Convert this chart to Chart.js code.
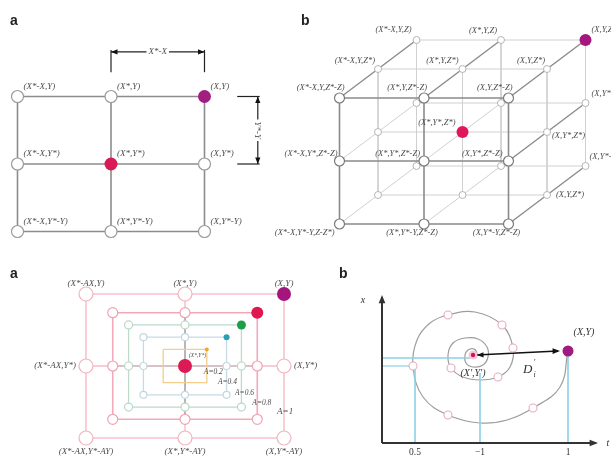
<!DOCTYPE html>
<html>
<head>
<meta charset="utf-8">
<script src="https://cdn.jsdelivr.net/npm/chart.js@4.4.1/dist/chart.umd.min.js"></script>
<style>
  html, body { margin: 0; padding: 0; background: #fff; }
  #wrap { position: relative; width: 611px; height: 457px; overflow: hidden; }
  #wrap canvas { position: absolute; }
  .tag { position: absolute; font: bold 14px "Liberation Sans", Arial, sans-serif; color: #222; line-height: 14px; }
</style>
</head>
<body>
<div id="wrap">
  <canvas id="gridA" width="300" height="245" style="left:0;top:0"></canvas>
  <canvas id="cubeB" width="341" height="250" style="left:270px;top:0"></canvas>
  <canvas id="boxA" width="320" height="212" style="left:0;top:245px"></canvas>
  <canvas id="spiralB" width="311" height="227" style="left:300px;top:230px"></canvas>
  <div class="tag" style="left:10px;top:13px">a</div>
  <div class="tag" style="left:301px;top:13px">b</div>
  <div class="tag" style="left:10px;top:266px">a</div>
  <div class="tag" style="left:339px;top:266px">b</div>
</div>
<script>
// ---------- data ----------
// top a : 3x3 neighbourhood
const gridCols = [-1, 0, 1];
const gridRows = [1, 0, -1];
const gridColNames = ['X*-X', 'X*', 'X'];
const gridRowNames = ['Y', 'Y*', 'Y*-Y'];
const gridTarget = [1, 1];
const gridCentre = [0, 0];
const dimTopX = [0, 1];
const dimTopY = [1.36, 1.69];
const dimTopArrowY = 1.66;
const dimSideY = [1, 0];
const dimSideX = [1.35, 1.59];
const dimSideArrowX = 1.57;

// top b : 3x3x3 lattice
const cubeCols = [-1, 0, 1];
const cubeRows = [1, 0, -1];
const cubeDepths = [-1, 0, 1];
const cubeTarget = [1, 1, 1];
const cubeCentre = [0, 0, 0];
const cubeLabelNodes = [
  [-1, 1, 1], [0, 1, 1], [1, 1, 1],
  [-1, 1, 0], [0, 1, 0], [1, 1, 0],
  [-1, 1, -1], [0, 1, -1], [1, 1, -1],
  [0, 0, 0], [1, 0, 0], [1, 0, 1],
  [-1, 0, -1], [0, 0, -1], [1, 0, -1],
  [1, -1, 1], [1, -1, 0],
  [-1, -1, -1], [0, -1, -1], [1, -1, -1]
];
const cubeLabelTexts = [
  '(X*-X,Y,Z)', '(X*,Y,Z)', '(X,Y,Z)',
  '(X*-X,Y,Z*)', '(X*,Y,Z*)', '(X,Y,Z*)',
  '(X*-X,Y,Z*-Z)', '(X*,Y,Z*-Z)', '(X,Y,Z*-Z)',
  '(X*,Y*,Z*)', '(X,Y*,Z*)', '(X,Y*,Z)',
  '(X*-X,Y*,Z*-Z)', '(X*,Y*,Z*-Z)', '(X,Y*,Z*-Z)',
  '(X,Y*-Y,Z)', '(X,Y,Z*)',
  '(X*-X,Y*-Y,Z-Z*)', '(X*,Y*-Y,Z*-Z)', '(X,Y*-Y,Z*-Z)'
];

// bottom a : shrinking boxes
const boxNames = ['A=1', 'A=0.8', 'A=0.6', 'A=0.4', 'A=0.2'];
const boxHalfW = [1, 0.73, 0.57, 0.42, 0.22];
const boxHalfH = [1, 0.74, 0.57, 0.40, 0.23];
const boxNameX = [0.93, 0.68, 0.505, 0.333, 0.19];
const boxNameY = [-0.64, -0.51, -0.37, -0.22, -0.08];

// bottom b : spiral towards (X',Y')
const spiralX = [18.6, 17.8, 15.1, 12.5, 9.8, 6.6, 4.1, 3.1, 3.5, 4.8, 6.6, 9.3, 12.0, 13.1, 12.8, 11.6, 9.8, 8.1, 6.9, 6.6, 7.1, 8.3, 9.6, 10.5, 10.6, 10.1, 9.1, 8.4, 8.3, 8.6, 9.2, 9.5, 9.3, 8.9];
const spiralY = [9.2, 5.6, 3.5, 2.3, 2.0, 2.8, 4.6, 7.7, 10.3, 12.0, 12.8, 13.1, 11.8, 9.5, 7.6, 6.6, 6.3, 6.6, 7.5, 8.8, 10.0, 10.5, 10.4, 9.6, 8.6, 7.8, 7.6, 8.0, 8.8, 9.3, 9.4, 8.9, 8.5, 8.6];
const spiralNodeX = [6.6, 12.0, 13.1, 11.6, 6.9, 3.1, 6.6, 15.1];
const spiralNodeY = [12.8, 11.8, 9.5, 6.6, 7.5, 7.7, 2.8, 3.5];
const spiralTarget = [18.6, 9.2];
const spiralCentre = [9.1, 8.8];
const tTicks = [3.3, 9.8, 18.6];
const tTickLabels = ['0.5', '\u22121', '1'];

// ---------- styles ----------
const TXT = '#4d4d4d';
const SERIF = '"Liberation Serif", "DejaVu Serif", serif';
function italic(size) { return 'italic ' + size + 'px ' + SERIF; }
const boxLine = ['#f6c3ce', '#f2a9b9', '#bcdccb', '#c8dbe4', '#f6cd8a'];
const boxNode = ['#f1b4c3', '#efa3b5', '#b9d8c7', '#c3d8e2', null];
const boxNodeR = [7, 5, 4, 3.5, 0];
const boxDot = ['#a4167e', '#e0164f', '#1c9f48', '#2b9fb5', '#f5a623'];
const boxDotR = [7, 6, 4.5, 3, 2];

// ---------- helpers ----------
function frame(w, h, ox, oy, ux, uy) {
  return {
    x: { type: 'linear', display: false, min: -ox / ux, max: (w - ox) / ux },
    y: { type: 'linear', display: false, min: -(h - oy) / uy, max: oy / uy }
  };
}

function lineSet(pts, color, width, extra) {
  return Object.assign({
    data: pts, showLine: true, borderColor: color, borderWidth: width,
    pointRadius: 0, pointHoverRadius: 0, fill: false, tension: 0, clip: false, order: 3
  }, extra || {});
}

function dotSet(pts, radius, fillColor, edgeColor, edgeWidth, order) {
  return {
    data: pts, showLine: false, pointRadius: radius, pointHoverRadius: radius,
    pointBackgroundColor: fillColor, pointBorderColor: edgeColor, pointBorderWidth: edgeWidth,
    borderColor: edgeColor, backgroundColor: fillColor, clip: false, order: order == null ? 1 : order
  };
}

function notesPlugin(id, notes) {
  return {
    id: id,
    afterDatasetsDraw(chart) {
      const ctx = chart.ctx, sx = chart.scales.x, sy = chart.scales.y;
      (notes.heads || []).forEach(hd => {
        const x1 = sx.getPixelForValue(hd.from[0]), y1 = sy.getPixelForValue(hd.from[1]);
        const x2 = sx.getPixelForValue(hd.to[0]), y2 = sy.getPixelForValue(hd.to[1]);
        const a = Math.atan2(y2 - y1, x2 - x1), len = hd.size || 7, spread = 0.38;
        ctx.save();
        ctx.fillStyle = hd.color || '#111';
        ctx.beginPath();
        ctx.moveTo(x2, y2);
        ctx.lineTo(x2 - len * Math.cos(a - spread), y2 - len * Math.sin(a - spread));
        ctx.lineTo(x2 - len * Math.cos(a + spread), y2 - len * Math.sin(a + spread));
        ctx.closePath();
        ctx.fill();
        ctx.restore();
      });
      (notes.texts || []).forEach(t => {
        ctx.save();
        ctx.font = t.font;
        ctx.textAlign = t.align || 'left';
        ctx.textBaseline = 'middle';
        ctx.translate(sx.getPixelForValue(t.x) + (t.dx || 0), sy.getPixelForValue(t.y) + (t.dy || 0));
        if (t.rot) ctx.rotate(t.rot);
        const w = ctx.measureText(t.text).width;
        if (t.bg) {
          const left = t.align === 'center' ? -w / 2 : (t.align === 'right' ? -w : 0);
          ctx.fillStyle = t.bg;
          ctx.fillRect(left - 2, -5, w + 4, 10);
        }
        ctx.fillStyle = t.color || TXT;
        ctx.fillText(t.text, 0, 0);
        if (t.sup) { ctx.font = t.smallFont; ctx.textAlign = 'left'; ctx.fillText(t.sup, w + 1, -7); }
        if (t.sub) { ctx.font = t.smallFont; ctx.textAlign = 'left'; ctx.fillText(t.sub, w + 1, 5); }
        ctx.restore();
      });
    }
  };
}

function makeChart(id, datasets, scales, notes) {
  return new Chart(document.getElementById(id), {
    type: 'scatter',
    data: { datasets: datasets },
    options: {
      responsive: false, animation: false, devicePixelRatio: 1, events: [],
      layout: { padding: 0, autoPadding: false },
      scales: scales,
      plugins: { legend: { display: false }, tooltip: { enabled: false } }
    },
    plugins: [notesPlugin(id + 'Notes', notes)]
  });
}

const same = (a, b) => a.every((v, i) => v === b[i]);

// ---------- top a ----------
(function () {
  const sets = [];
  gridRows.forEach(r => sets.push(lineSet(gridCols.map(c => ({ x: c, y: r })), '#8c8c8c', 1.6)));
  gridCols.forEach(c => sets.push(lineSet(gridRows.map(r => ({ x: c, y: r })), '#8c8c8c', 1.6)));
  const open = [], texts = [];
  gridRows.forEach((r, ri) => gridCols.forEach((c, ci) => {
    if (!same([c, r], gridTarget) && !same([c, r], gridCentre)) open.push({ x: c, y: r });
    texts.push({ x: c, y: r, dx: 6, dy: -10, text: '(' + gridColNames[ci] + ',' + gridRowNames[ri] + ')', font: italic(9) });
  }));
  sets.push(dotSet(open, 6, '#ffffff', '#9a9a9a', 1.2));
  sets.push(dotSet([{ x: gridTarget[0], y: gridTarget[1] }], 6.5, '#a01f80', '#a01f80', 0, 0));
  sets.push(dotSet([{ x: gridCentre[0], y: gridCentre[1] }], 6.5, '#d81a57', '#d81a57', 0, 0));

  dimTopX.forEach(c => sets.push(lineSet([{ x: c, y: dimTopY[0] }, { x: c, y: dimTopY[1] }], '#222', 1.2)));
  sets.push(lineSet([{ x: dimTopX[0], y: dimTopArrowY }, { x: dimTopX[1], y: dimTopArrowY }], '#222', 1.2));
  dimSideY.forEach(r => sets.push(lineSet([{ x: dimSideX[0], y: r }, { x: dimSideX[1], y: r }], '#222', 1.2)));
  sets.push(lineSet([{ x: dimSideArrowX, y: dimSideY[0] }, { x: dimSideArrowX, y: dimSideY[1] }], '#222', 1.2));

  const midX = (dimTopX[0] + dimTopX[1]) / 2, midY = (dimSideY[0] + dimSideY[1]) / 2;
  texts.push({ x: midX, y: dimTopArrowY, text: 'X*-X', font: italic(9), align: 'center', bg: '#fff' });
  texts.push({ x: dimSideArrowX, y: midY, text: 'Y*-Y', font: italic(9), align: 'center', bg: '#fff', rot: Math.PI / 2 });
  const heads = [
    { from: [midX, dimTopArrowY], to: [dimTopX[0], dimTopArrowY], size: 7 },
    { from: [midX, dimTopArrowY], to: [dimTopX[1], dimTopArrowY], size: 7 },
    { from: [dimSideArrowX, midY], to: [dimSideArrowX, dimSideY[0]], size: 7 },
    { from: [dimSideArrowX, midY], to: [dimSideArrowX, dimSideY[1]], size: 7 }
  ];
  makeChart('gridA', sets, frame(300, 245, 111, 164, 93.5, 67.5), { texts: texts, heads: heads });
})();

// ---------- top b ----------
(function () {
  const kx = 38.5 / 84.5, ky = 29 / 63;   // oblique depth direction
  const proj = (c, r, d) => ({ x: c + kx * d, y: r + ky * d });
  const dark = '#8a8a8a', light = '#d0d0d0';
  const sets = [];
  cubeDepths.forEach(d => {
    const front = d === cubeDepths[0];
    cubeRows.forEach(r => sets.push(lineSet(cubeCols.map(c => proj(c, r, d)), front ? dark : light, front ? 1.6 : 1, { order: front ? 2 : 4 })));
    cubeCols.forEach(c => sets.push(lineSet(cubeRows.map(r => proj(c, r, d)), front ? dark : light, front ? 1.6 : 1, { order: front ? 2 : 4 })));
  });
  cubeCols.forEach(c => cubeRows.forEach(r => {
    const edge = r === 1 || c === 1;
    sets.push(lineSet(cubeDepths.map(d => proj(c, r, d)), edge ? dark : light, edge ? 1.4 : 1, { order: edge ? 2 : 4 }));
  }));
  const frontNodes = [], backNodes = [];
  cubeDepths.forEach(d => cubeRows.forEach(r => cubeCols.forEach(c => {
    if (same([c, r, d], cubeTarget) || same([c, r, d], cubeCentre)) return;
    (d === cubeDepths[0] ? frontNodes : backNodes).push(proj(c, r, d));
  })));
  sets.push(dotSet(frontNodes, 5, '#ffffff', '#7a7a7a', 1.2));
  sets.push(dotSet(backNodes, 3.5, '#ffffff', '#b5b5b5', 1));
  sets.push(dotSet([proj(...cubeTarget)], 6, '#a3177f', '#a3177f', 0, 0));
  sets.push(dotSet([proj(...cubeCentre)], 6, '#e0185a', '#e0185a', 0, 0));

  const place = [
    [-5, -10, 'right'], [-4, -9, 'right'], [6, -10, 'left'],
    [-3, -8, 'right'], [-4, -8, 'right'], [-2, -8, 'right'],
    [5, -10, 'right'], [3, -10, 'right'], [4, -10, 'right'],
    [-7, -9, 'right'], [5, 4, 'left'], [6, -9, 'left'],
    [-2, -7, 'right'], [-4, -7, 'right'], [-6, -7, 'right'],
    [4, -9, 'left'], [9, 0, 'left'],
    [-5, 9, 'right'], [-12, 9, 'center'], [-12, 9, 'center']
  ];
  const texts = cubeLabelNodes.map((n, i) => {
    const p = proj(n[0], n[1], n[2]);
    return { x: p.x, y: p.y, dx: place[i][0], dy: place[i][1], align: place[i][2], text: cubeLabelTexts[i], font: italic(8.5) };
  });
  makeChart('cubeB', sets, frame(341, 250, 192.5, 132, 84.5, 63), { texts: texts });
})();

// ---------- bottom a ----------
(function () {
  const sets = [];
  sets.push(lineSet([{ x: 0, y: 1 }, { x: 0, y: -1 }], '#f3bcc8', 1.4, { order: 5 }));
  sets.push(lineSet([{ x: -1, y: 0 }, { x: 1, y: 0 }], '#f3bcc8', 1.4, { order: 5 }));
  sets.push(lineSet([{ x: 0, y: boxHalfH[1] }, { x: 0, y: -boxHalfH[1] }], '#b0b0b0', 1, { order: 4 }));
  sets.push(lineSet([{ x: -boxHalfW[1], y: 0 }, { x: boxHalfW[1], y: 0 }], '#b8b8b8', 1, { order: 4 }));
  const texts = [];
  boxNames.forEach((name, i) => {
    const w = boxHalfW[i], h = boxHalfH[i];
    sets.push(lineSet([{ x: -w, y: h }, { x: w, y: h }, { x: w, y: -h }, { x: -w, y: -h }, { x: -w, y: h }], boxLine[i], i < 2 ? 1.6 : 1.3, { order: 3 }));
    if (boxNodeR[i] > 0) {
      const nodes = [[-w, h], [0, h], [-w, 0], [w, 0], [-w, -h], [0, -h], [w, -h]].map(p => ({ x: p[0], y: p[1] }));
      sets.push(dotSet(nodes, boxNodeR[i], '#ffffff', boxNode[i], 1.2, 1));
    }
    sets.push(dotSet([{ x: w, y: h }], boxDotR[i], boxDot[i], boxDot[i], 0, 0));
    texts.push({ x: boxNameX[i], y: boxNameY[i], text: name, font: italic(i === 0 ? 9 : 7.5) });
  });
  sets.push(dotSet([{ x: 0, y: 0 }], 7, '#dc1a55', '#dc1a55', 0, 0));
  texts.push({ x: 0, y: 0, dx: 4, dy: -10, text: '(X*,Y*)', font: italic(5.5) });
  const ptX = ['X*-AX', 'X*', 'X'], ptY = ['Y', 'Y*', 'Y*-AY'];
  [1, 0, -1].forEach((r, ri) => [-1, 0, 1].forEach((c, ci) => {
    if (r === 0 && c === 0) return;
    const t = { x: c, y: r, text: '(' + ptX[ci] + ',' + ptY[ri] + ')', font: italic(9) };
    if (r === 1) Object.assign(t, { dy: -10, align: 'center' });
    else if (r === -1) Object.assign(t, { dy: 14, align: 'center' });
    else if (c < 0) Object.assign(t, { dx: -10, align: 'right' });
    else Object.assign(t, { dx: 10, align: 'left' });
    texts.push(t);
  }));
  makeChart('boxA', sets, frame(320, 212, 185, 121, 99, 72), { texts: texts });
})();

// ---------- bottom b ----------
(function () {
  const sets = [];
  const blue = '#8ed0e6';
  sets.push(lineSet(spiralX.map((x, i) => ({ x: x, y: spiralY[i] })), '#9d9d9d', 1.2, { tension: 0.4, order: 4 }));
  sets.push(lineSet([{ x: spiralTarget[0], y: spiralTarget[1] }, { x: spiralTarget[0], y: 0 }], blue, 1.6, { order: 3 }));
  sets.push(lineSet([{ x: 0, y: 8.5 }, { x: spiralCentre[0], y: 8.5 }], blue, 1.6, { order: 3 }));
  sets.push(lineSet([{ x: 0, y: spiralNodeY[5] }, { x: spiralNodeX[5], y: spiralNodeY[5] }], blue, 1.2, { order: 3 }));
  sets.push(lineSet([{ x: tTicks[0], y: spiralNodeY[5] }, { x: tTicks[0], y: 0 }], blue, 1.6, { order: 3 }));
  sets.push(lineSet([{ x: tTicks[1], y: 7.0 }, { x: tTicks[1], y: 0 }], blue, 1.6, { order: 3 }));
  // axes
  sets.push(lineSet([{ x: 0, y: 0 }, { x: 0, y: 14.6 }], '#333', 2, { order: 2 }));
  sets.push(lineSet([{ x: 0, y: 0 }, { x: 21.4, y: 0 }], '#333', 2, { order: 2 }));
  // D'_i arrow
  sets.push(lineSet([{ x: spiralCentre[0] + 0.3, y: spiralCentre[1] }, { x: 17.6, y: spiralTarget[1] }], '#111', 1.5, { order: 2 }));
  sets.push(dotSet(spiralNodeX.map((x, i) => ({ x: x, y: spiralNodeY[i] })), 4, '#ffffff', '#e8adbb', 1.1, 1));
  sets.push(dotSet([{ x: spiralCentre[0], y: spiralCentre[1] }], 4.5, '#f6c9d4', '#f6c9d4', 0, 1));
  sets.push(dotSet([{ x: spiralCentre[0], y: spiralCentre[1] }], 2.2, '#d4145a', '#d4145a', 0, 0));
  sets.push(dotSet([{ x: spiralTarget[0], y: spiralTarget[1] }], 5.5, '#a11a80', '#a11a80', 0, 0));
  const heads = [
    { from: [0, 10], to: [0, 14.8], size: 9, color: '#333' },
    { from: [15, 0], to: [21.6, 0], size: 9, color: '#333' },
    { from: [12, 9.1], to: [17.8, 9.2], size: 8 },
    { from: [13, 8.9], to: [spiralCentre[0] + 0.4, spiralCentre[1]], size: 7 }
  ];
  const texts = [
    { x: -1.9, y: 14.3, text: 'x', font: italic(10), align: 'center', color: '#333' },
    { x: 22.6, y: 0, text: 't', font: italic(10), align: 'center', color: '#333' },
    { x: spiralTarget[0], y: spiralTarget[1], dx: 16, dy: -19, text: '(X,Y)', font: italic(10), align: 'center', color: '#333' },
    { x: spiralCentre[0], y: spiralCentre[1], dy: 18, text: "(X',Y')", font: italic(10), align: 'center', color: '#333' },
    { x: 14.1, y: 7.3, text: 'D', font: italic(13), color: '#333', sup: '\u2032', sub: 'i', smallFont: italic(8) }
  ];
  tTicks.forEach((t, i) => texts.push({ x: t, y: -0.95, text: tTickLabels[i], font: '9.5px ' + SERIF, align: 'center', color: '#333' }));
  makeChart('spiralB', sets, frame(311, 227, 82, 213, 10, 10), { texts: texts, heads: heads });
})();
</script>
</body>
</html>
